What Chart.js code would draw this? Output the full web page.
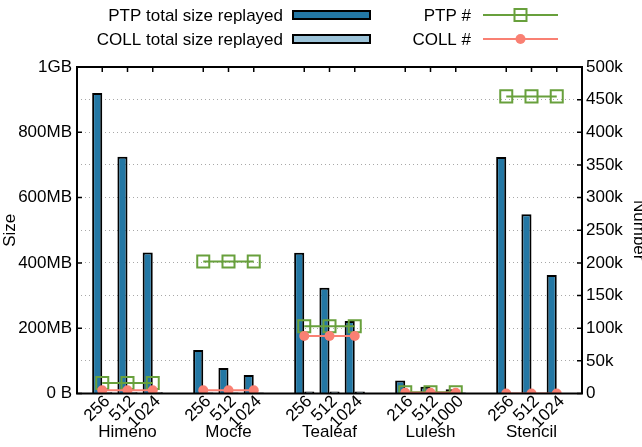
<!DOCTYPE html>
<html>
<head>
<meta charset="utf-8">
<script src="https://cdn.jsdelivr.net/npm/chart.js@4/dist/chart.umd.min.js"></script>
<style>
  html, body { margin: 0; padding: 0; background: #fff; }
  #wrap { width: 642px; height: 447px; }
</style>
</head>
<body>
<div id="wrap"><canvas id="chart" width="642" height="447"></canvas></div>
<script>
// Benchmarks and the process counts run for each
const groupNames = ['Himeno', 'Mocfe', 'Tealeaf', 'Lulesh', 'Stencil'];
const procCounts = [
    ['256', '512', '1024'],
    ['256', '512', '1024'],
    ['256', '512', '1024'],
    ['216', '512', '1000'],
    ['256', '512', '1024']
];

// Replayed size in MB (left axis)
const ptpSizeMB = [[920, 725, 432], [133, 78, 57], [431, 324, 222], [40, 21, 13], [724, 549, 363]];
const collSizeMB = [[4, 4, 4], [3, 3, 3], [6, 6, 6], [3, 3, 3], [0, 0, 0]];

// Number of operations in thousands (right axis)
const ptpCountK = [[16, 16, 16], [202, 202, 202], [103, 103, 103], [2, 2, 2], [455, 455, 455]];
const collCountK = [[5, 5, 5], [5, 5, 5], [88, 88, 88], [1, 1, 1], [0, 0, 0]];

// Tick labels
const sizeTicks = ['0 B', '200MB', '400MB', '600MB', '800MB', '1GB'];
const countTicks = ['0', '50k', '100k', '150k', '200k', '250k', '300k', '350k', '400k', '450k', '500k'];

// each benchmark takes 3 slots plus an empty one between groups
const labels = [''];
const groupRow = [''];
procCounts.forEach((procs, g) => {
    labels.push(...procs, '');
    groupRow.push('', groupNames[g], '', '');
});
function spread(values) {
    const out = [null];
    values.forEach(v => out.push(...v, null));
    return out;
}

const FONT = { family: '"Liberation Sans", Arial, Helvetica, sans-serif', size: 17 };
const GREEN = '#68a03c';
const SALMON = '#f98073';

// black frame round the plot with gnuplot style inward ticks
const framePlugin = {
    id: 'frame',
    afterDraw(chart) {
        const { ctx, chartArea: a, scales } = chart;
        ctx.save();
        ctx.strokeStyle = '#000';
        ctx.lineWidth = 1.5;
        ctx.beginPath();
        scales.y.ticks.forEach((t, i) => {
            const py = scales.y.getPixelForTick(i);
            ctx.moveTo(a.left, py); ctx.lineTo(a.left + 5, py);
        });
        scales.y1.ticks.forEach((t, i) => {
            const py = scales.y1.getPixelForTick(i);
            ctx.moveTo(a.right, py); ctx.lineTo(a.right - 5, py);
        });
        labels.forEach((l, i) => {
            if (!l) return;
            const px = scales.x.getPixelForValue(i);
            ctx.moveTo(px, a.top); ctx.lineTo(px, a.top + 5);
        });
        ctx.stroke();
        ctx.lineWidth = 2;
        ctx.strokeRect(a.left, a.top, a.right - a.left, a.bottom - a.top);
        ctx.restore();
    }
};

// key in two columns: text first, sample after it
const keyPlugin = {
    id: 'key',
    afterDraw(chart) {
        const { ctx } = chart;
        const ds = chart.data.datasets;
        const find = id => ds.find(d => d.key === id);
        const cols = [
            { textRight: 283, x0: 293, x1: 370, items: [find('ptpSize'), find('collSize')] },
            { textRight: 471, x0: 483, x1: 558, items: [find('ptpCount'), find('collCount')] }
        ];
        const rows = [15, 39];
        ctx.save();
        ctx.font = FONT.size + 'px ' + FONT.family;
        ctx.textAlign = 'right';
        ctx.textBaseline = 'middle';
        cols.forEach(c => c.items.forEach((d, r) => {
            const y = rows[r];
            ctx.fillStyle = '#000';
            ctx.fillText(d.label, c.textRight, y + 1);
            if (d.type === 'bar') {
                ctx.fillStyle = d.backgroundColor;
                ctx.fillRect(c.x0, y - 4, c.x1 - c.x0, 8);
                ctx.strokeStyle = '#000';
                ctx.lineWidth = 2;
                ctx.strokeRect(c.x0, y - 4, c.x1 - c.x0, 8);
            } else {
                ctx.strokeStyle = d.borderColor;
                ctx.lineWidth = 2;
                ctx.beginPath();
                ctx.moveTo(c.x0, y); ctx.lineTo(c.x1, y);
                ctx.stroke();
                const mx = (c.x0 + c.x1) / 2;
                if (d.pointStyle === 'rect') {
                    ctx.strokeRect(mx - 6, y - 6, 12, 12);
                } else {
                    ctx.fillStyle = d.pointBackgroundColor;
                    ctx.beginPath();
                    ctx.arc(mx, y, 5, 0, Math.PI * 2);
                    ctx.fill();
                }
            }
        }));
        ctx.restore();
    }
};

const data = {
    labels: labels,
    datasets: [
        {
            key: 'collCount',
            type: 'line',
            label: 'COLL #',
            data: spread(collCountK),
            yAxisID: 'y1',
            order: 0,
            borderColor: SALMON,
            borderWidth: 2,
            pointStyle: 'circle',
            pointRadius: 5,
            pointBackgroundColor: SALMON,
            pointBorderColor: SALMON,
            pointBorderWidth: 0,
            spanGaps: false
        },
        {
            key: 'ptpCount',
            type: 'line',
            label: 'PTP #',
            data: spread(ptpCountK),
            yAxisID: 'y1',
            order: 1,
            borderColor: GREEN,
            borderWidth: 2,
            pointStyle: 'rect',
            pointRadius: 8.5,
            pointBackgroundColor: 'rgba(0,0,0,0)',
            pointBorderColor: GREEN,
            pointBorderWidth: 2,
            spanGaps: false
        },
        {
            key: 'ptpSize',
            type: 'bar',
            label: 'PTP total size replayed',
            data: spread(ptpSizeMB),
            yAxisID: 'y',
            order: 2,
            backgroundColor: '#2377a4',
            borderColor: '#000',
            borderWidth: 2
        },
        {
            key: 'collSize',
            type: 'bar',
            label: 'COLL total size replayed',
            data: spread(collSizeMB),
            yAxisID: 'y',
            order: 2,
            backgroundColor: '#9cc3d8',
            borderColor: '#000',
            borderWidth: 2
        }
    ]
};

const options = {
    responsive: false,
    animation: false,
    maintainAspectRatio: false,
    layout: { padding: { top: 67, left: 0, right: 0, bottom: 0 } },
    plugins: { legend: { display: false }, tooltip: { enabled: false } },
    datasets: { bar: { categoryPercentage: 0.8, barPercentage: 1 } },
    scales: {
        x: {
            type: 'category',
            position: 'bottom',
            offset: false,
            grid: { display: false, drawTicks: false },
            border: { display: false },
            ticks: {
                autoSkip: false, minRotation: 45, maxRotation: 45,
                padding: -2, labelOffset: 5, color: '#000', font: FONT
            },
            afterFit(s) { s.height = 36; }
        },
        groups: {
            type: 'category',
            position: 'bottom',
            labels: groupRow,
            offset: false,
            grid: { display: false, drawTicks: false },
            border: { display: false },
            ticks: {
                autoSkip: false, maxRotation: 0, minRotation: 0,
                mirror: true, padding: -13, color: '#000', font: FONT
            },
            afterFit(s) { s.height = 17.5; }
        },
        y: {
            position: 'left',
            min: 0,
            max: 1000,
            grid: { display: false, drawTicks: false },
            border: { display: false },
            ticks: {
                stepSize: 200,
                padding: 5,
                color: '#000',
                font: FONT,
                callback: (v, i) => sizeTicks[i]
            },
            title: { display: true, text: 'Size', color: '#000', font: FONT, padding: 0 },
            afterFit(s) { s.width = 77; }
        },
        y1: {
            position: 'right',
            min: 0,
            max: 500,
            grid: {
                display: true,
                drawTicks: false,
                color: '#a8a8a8',
                lineWidth: 1
            },
            border: { display: false, dash: [1, 3] },
            ticks: {
                stepSize: 50,
                padding: 4,
                color: '#000',
                font: FONT,
                callback: (v, i) => countTicks[i]
            },
            title: { display: true, text: 'Number', color: '#000', font: FONT, padding: { top: -7, bottom: 0 } },
            afterFit(s) { s.width = 60; }
        }
    }
};

document.addEventListener('DOMContentLoaded', function () {
    new Chart(document.getElementById('chart'), {
        type: 'bar',
        data: data,
        options: options,
        plugins: [framePlugin, keyPlugin]
    });
});
</script>
</body>
</html>
